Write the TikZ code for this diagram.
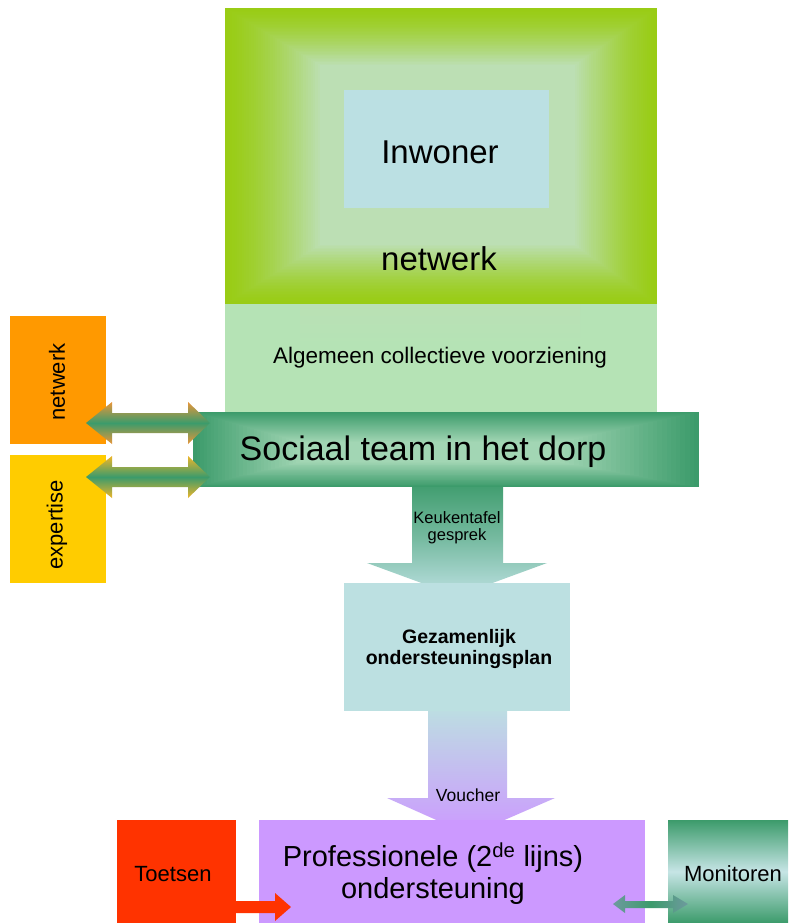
\documentclass[tikz,border=0pt]{standalone}
\usepackage{fontspec}
\setmainfont{Liberation Sans}
\definecolor{ygr}{HTML}{99CC15}
\definecolor{lgr}{HTML}{BCDFB4}
\definecolor{inw}{HTML}{BBE0E3}
\definecolor{band}{HTML}{B5E3B5}
\definecolor{dgr}{HTML}{3C9B6B}
\definecolor{mgr}{HTML}{A2D6B4}
\definecolor{ora}{HTML}{FF9900}
\definecolor{yel}{HTML}{FFCC00}
\definecolor{lbl}{HTML}{BCE0E1}
\definecolor{pur}{HTML}{CC99FF}
\definecolor{red1}{HTML}{FF3300}
\definecolor{arrO}{HTML}{E8963A}
\definecolor{arrY}{HTML}{EDB52A}
\tikzset{
  lbl/.style={inner sep=0pt, align=center, text=black},
  box/.style={inner sep=0pt, draw=none},
}
\begin{document}
\begin{tikzpicture}[x=1pt,y=-1pt]
\useasboundingbox (0,0) rectangle (788,923);
\fill[white] (0,0) rectangle (788,923);

% big green square with rectangular gradient
\foreach \i in {0,...,40}{
  \pgfmathsetmacro{\t}{\i/40}
  \pgfmathsetmacro{\p}{100*(\t^1.4)}
  \pgfmathsetmacro{\xa}{225+\t*(320-225)}
  \pgfmathsetmacro{\ya}{8+\t*(65-8)}
  \pgfmathsetmacro{\xb}{657-\t*(657-575)}
  \pgfmathsetmacro{\yb}{304-\t*(304-245)}
  \colorlet{tmpc}{lgr!\p!ygr}
  \fill[tmpc] (\xa,\ya) rectangle (\xb,\yb);
}
\node[box, fill=inw, minimum width=205pt, minimum height=118pt] (inwbox) at (446.5,149) {};
\node[lbl, font=\fontsize{33}{36}\selectfont] (inwoner) at (440,152) {Inwoner};
\node[lbl, font=\fontsize{33}{36}\selectfont] (netwerk) at (439,259) {netwerk};

% band
\fill[band] (225,304) rectangle (657,412);
\shade[top color=lgr!70!band, bottom color=band] (300,304) rectangle (580,345);
\node[lbl, font=\fontsize{22.5}{26}\selectfont] (acv) at (440,358) {Algemeen collectieve voorziening};

% Keukentafel arrow (behind)
\shade[top color=dgr, bottom color=lbl, middle color=lbl!45!dgr]
  (412,480) -- (503,480) -- (503,563) -- (547,563) -- (457,596) -- (367,563) -- (412,563) -- cycle;
% Voucher arrow (behind)
\shade[top color=lbl, bottom color=pur]
  (428,705) -- (507,705) -- (507,798) -- (555,798) -- (470,835) -- (387,798) -- (428,798) -- cycle;

% sociaal team bar
\foreach \i in {0,...,30}{
  \pgfmathsetmacro{\t}{\i/30}
  \pgfmathsetmacro{\p}{100*\t}
  \pgfmathsetmacro{\xa}{193+\t*(300-193)}
  \pgfmathsetmacro{\ya}{412+\t*(442-412)}
  \pgfmathsetmacro{\xb}{699-\t*(699-560)}
  \pgfmathsetmacro{\yb}{487-\t*(487-462)}
  \colorlet{tmpc}{mgr!\p!dgr}
  \fill[tmpc] (\xa,\ya) rectangle (\xb,\yb);
}
\node[lbl, font=\fontsize{34}{38}\selectfont] (sociaal) at (423,452) {Sociaal team in het dorp};

% orange and yellow boxes
\node[box, fill=ora, minimum width=96pt, minimum height=128pt] (netbox) at (58,379.5) {};
\node[lbl, rotate=90, font=\fontsize{22}{24}\selectfont] (nettxt) at (57,382) {netwerk};
\node[box, fill=yel, minimum width=96pt, minimum height=128pt] (expbox) at (58,519) {};
\node[lbl, rotate=90, font=\fontsize{22}{24}\selectfont] (exptxt) at (57,525) {expertise};

% double arrows
\shade[top color=arrO, bottom color=arrO, middle color=dgr]
  (86,423) -- (112,402) -- (112,413) -- (188,413) -- (188,402) -- (210,423) -- (188,444) -- (188,433) -- (112,433) -- (112,444) -- cycle;
\shade[top color=arrY, bottom color=arrY, middle color=dgr]
  (86,477) -- (112,456) -- (112,467) -- (188,467) -- (188,456) -- (210,477) -- (188,498) -- (188,487) -- (112,487) -- (112,498) -- cycle;

% Gezamenlijk box
\node[box, fill=lbl, minimum width=226pt, minimum height=128pt] (plan) at (456.5,647) {};
\node[lbl, font=\bfseries\fontsize{19.5}{21}\selectfont] (plantxt) at (459,649) {Gezamenlijk\\ondersteuningsplan};
\node[lbl, font=\fontsize{16.5}{17}\selectfont] (keuk) at (457,528) {Keukentafel\\gesprek};
\node[lbl, font=\fontsize{17.5}{20}\selectfont] (voucher) at (468,795) {Voucher};

% bottom boxes
\fill[red1] (117,820) rectangle (236,923);
\node[box, minimum width=119pt, minimum height=103pt] (toetsbox) at (176.5,871.5) {};
\node[lbl, font=\fontsize{22}{24}\selectfont] (toets) at (173,874) {Toetsen};
\node[box, fill=pur, minimum width=386pt, minimum height=103pt] (prof) at (452,871.5) {};
\node[lbl, font=\fontsize{29}{32}\selectfont] (proftxt) at (433,874) {Professionele (2\textsuperscript{de} lijns)\\ondersteuning};
\shade[top color=dgr, bottom color=dgr, middle color=lbl!85!white] (668,820) rectangle (788,923);
\node[box, minimum width=120pt, minimum height=103pt] (monbox) at (728,871.5) {};
\node[lbl, font=\fontsize{22}{24}\selectfont] (mon) at (733,874) {Monitoren};

% red arrow
\fill[red1] (200,901) -- (275,901) -- (275,893) -- (291,907) -- (275,921) -- (275,913) -- (200,913) -- cycle;
% teal double arrow
\shade[left color=pur!35!dgr, right color=pur!35!dgr, middle color=dgr]
  (613,904) -- (625,895) -- (625,901) -- (673,901) -- (673,895) -- (688,904) -- (673,913) -- (673,908) -- (625,908) -- (625,913) -- cycle;
\end{tikzpicture}
\end{document}
